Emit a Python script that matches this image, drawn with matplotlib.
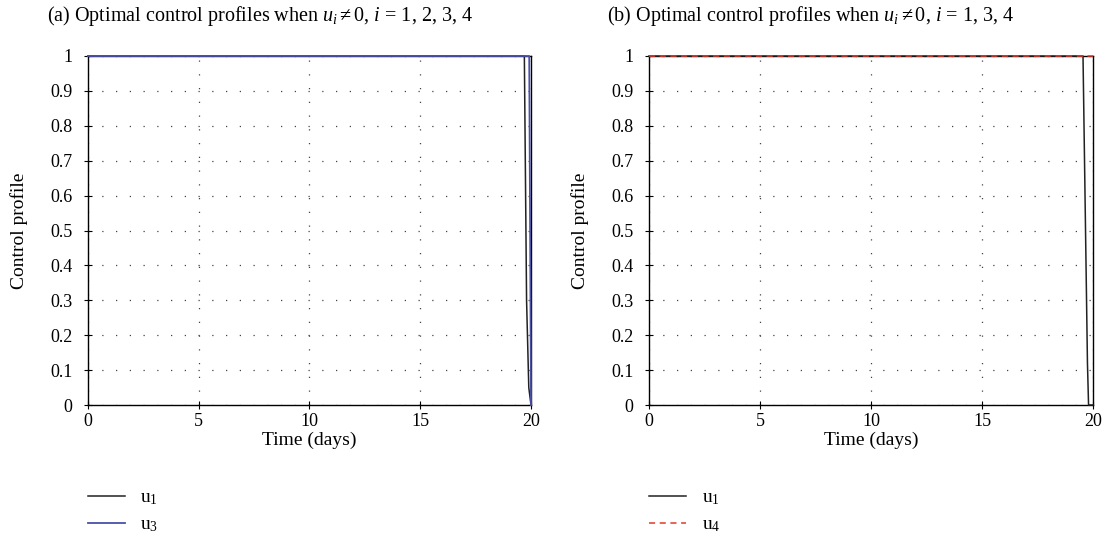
import matplotlib.pyplot as plt
import numpy as np

plt.rcParams['font.family'] = ['Liberation Serif', 'DejaVu Serif']
plt.rcParams['mathtext.fontset'] = 'custom'
plt.rcParams['mathtext.rm'] = 'Liberation Serif'
plt.rcParams['mathtext.it'] = 'Liberation Serif:italic'

# panel (a)
t_a_u1 = [0, 19.7, 19.8, 19.9, 20]
u_a_u1 = [1, 1, 0.3, 0.05, 0]
t_a_u3 = [0, 19.92, 20]
u_a_u3 = [1, 1, 0]

# panel (b)
t_b_u1 = [0, 19.55, 19.75, 19.8, 20]
u_b_u1 = [1, 1, 0.12, 0, 0]
t_b_u4 = [0, 20]
u_b_u4 = [1, 1]

titles = [r'(a) Optimal control profiles when $u_i \neq 0$, $i$ = 1, 2, 3, 4',
          r'(b) Optimal control profiles when $u_i \neq 0$, $i$ = 1, 3, 4']

fig = plt.figure(figsize=(11.07, 5.53), dpi=100)
ax1 = fig.add_axes([88/1107, 1-405/553, 443/1107, 349/553])
ax2 = fig.add_axes([649/1107, 1-405/553, 444/1107, 349/553])

ax1.plot(t_a_u1, u_a_u1, color='#222222', lw=1.1, label=r'u$_1$', clip_on=False, zorder=4)
ax1.plot(t_a_u3, u_a_u3, color='#4a4fa8', lw=1.3, label=r'u$_3$', clip_on=False, zorder=5)
ax2.plot(t_b_u1, u_b_u1, color='#222222', lw=1.1, label=r'u$_1$', clip_on=False, zorder=4)
ax2.plot(t_b_u4, u_b_u4, color='#e03a2a', lw=1.1, ls=(0, (4, 3)), label=r'u$_4$',
         clip_on=False, zorder=5)

legend_x = [88/1107, 649/1107]
title_x = [47/1107, 607/1107]
for i, ax in enumerate([ax1, ax2]):
    ax.set_xlim(0, 20)
    ax.set_ylim(0, 1)
    ax.set_xticks(np.arange(0, 21, 5))
    ax.set_yticks(np.arange(0, 1.01, 0.1))
    ax.set_yticklabels(['0'] + ['%.1f' % v for v in np.arange(0.1, 0.95, 0.1)] + ['1'])
    ax.grid(True, color='#444444', lw=0.9, ls=(0, (1, 10)))
    ax.tick_params(direction='inout', length=6, width=0.8, labelsize=13)
    ax.tick_params(axis='y', pad=8)
    ax.tick_params(axis='x', pad=3)
    for s in ax.spines.values():
        s.set_linewidth(1.0)
    ax.set_xlabel('Time (days)', fontsize=14, labelpad=1)
    ax.set_ylabel('Control profile', fontsize=14, labelpad=16)
    fig.text(title_x[i], 1-16/553, titles[i], fontsize=14.5, va='center', ha='left')
    fig.legend(handles=ax.get_lines(), loc='upper left', frameon=False,
               bbox_to_anchor=(legend_x[i], 1-489/553), borderpad=0, borderaxespad=0,
               fontsize=14, handlelength=1.9, labelspacing=0.45, handletextpad=0.8)

plt.savefig('out.png', dpi=100)
